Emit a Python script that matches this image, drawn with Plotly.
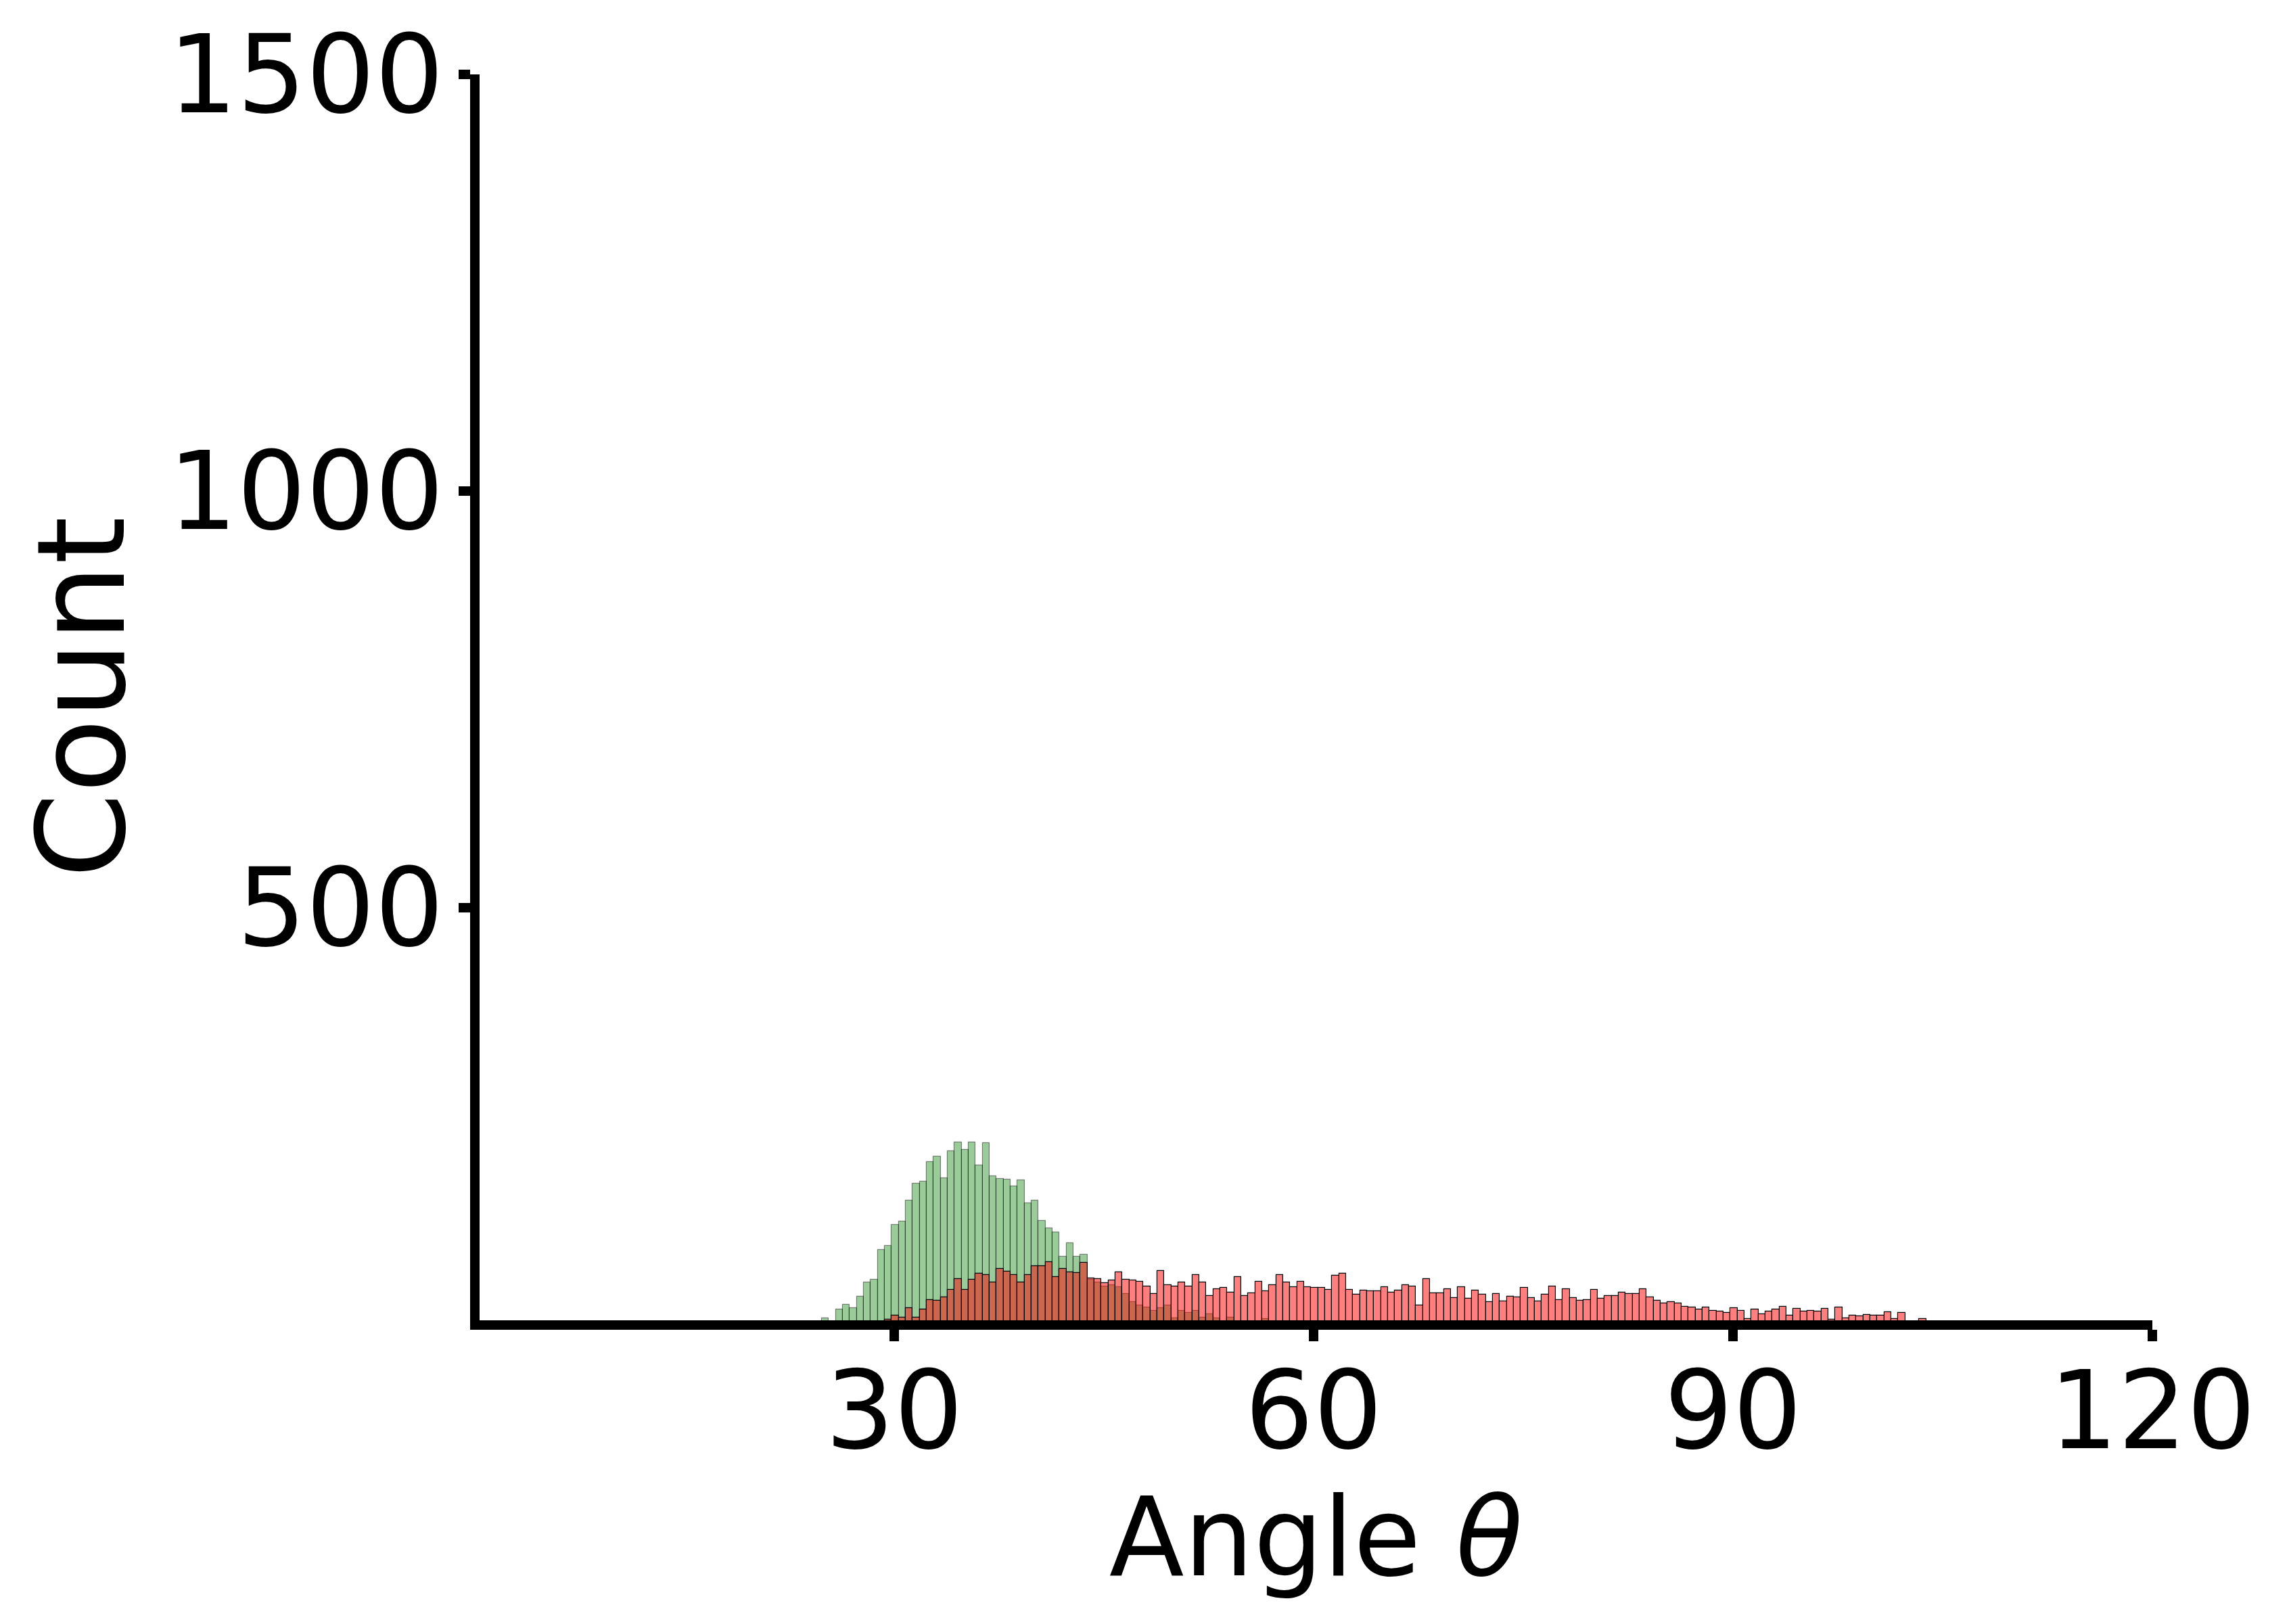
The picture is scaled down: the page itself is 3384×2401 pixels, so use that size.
import plotly.graph_objects as go

# histogram bins (degrees), shared by both groups
bin_start = 24.83
bin_width = 0.5

green_counts = [8, 2, 18, 24, 20, 34, 51, 54, 90, 95, 120, 124, 149, 169, 172, 195, 202, 176, 208, 219,
                210, 219, 191, 218, 178, 175, 174, 166, 173, 146, 149, 125, 116, 111, 82, 98, 82, 84, 54, 51,
                46, 48, 45, 37, 27, 23, 21, 17, 20, 23, 8, 17, 14, 17, 9, 13, 8, 3, 9, 0,
                0, 0, 0, 7]

red_counts = [0, 0, 0, 0, 0, 0, 0, 0, 0, 6, 11, 9, 20, 9, 18, 30, 29, 33, 42, 55,
              42, 54, 61, 60, 51, 67, 64, 60, 51, 60, 70, 70, 75, 57, 67, 63, 62, 74, 56, 55,
              50, 53, 63, 54, 53, 52, 46, 37, 65, 48, 46, 51, 46, 60, 51, 35, 43, 44, 39, 57,
              35, 38, 52, 40, 48, 60, 51, 45, 52, 45, 44, 44, 42, 59, 61, 42, 36, 41, 40, 40,
              45, 39, 41, 48, 46, 23, 55, 38, 38, 43, 32, 45, 31, 41, 36, 27, 37, 28, 34, 33,
              44, 32, 28, 36, 46, 30, 43, 32, 29, 30, 42, 31, 35, 35, 39, 37, 37, 43, 33, 29,
              26, 27, 26, 22, 21, 18, 21, 17, 16, 14, 20, 17, 7, 18, 13, 16, 18, 22, 11, 19,
              16, 17, 16, 19, 6, 21, 8, 11, 10, 12, 11, 11, 15, 7, 14, 1, 4, 7]

x_ticks = [30, 60, 90, 120]
y_ticks = [500, 1000, 1500]

FONT = "DejaVu Sans"

fig = go.Figure()

#green group first, red drawn over it
fig.add_trace(go.Bar(
    x0=bin_start + bin_width / 2, dx=bin_width, y=green_counts, width=bin_width,
    marker=dict(color="rgba(0,128,0,0.4)", line=dict(color="rgba(0,0,0,0.45)", width=1.2)),
    showlegend=False,
))
fig.add_trace(go.Bar(
    x0=bin_start + bin_width / 2, dx=bin_width, y=red_counts, width=bin_width,
    marker=dict(color="rgba(255,0,0,0.5)", line=dict(color="black", width=1.2)),
    showlegend=False,
))

#plotly draws the spines outside the plot area, so the ranges start a few px
#inside zero to put the spine centre on 0 like matplotlib does
#(margins also allow for the 8px page margin of the html body)
fig.update_layout(
    width=3384, height=2401, autosize=False,
    margin=dict(l=701, r=210, t=102, b=457),
    paper_bgcolor="white", plot_bgcolor="white",
    barmode="overlay", bargap=0,
    font=dict(family=FONT, color="black", size=160),
)
fig.update_xaxes(
    range=[0.34, 120], tickvals=x_ticks, ticks="outside", ticklen=17, tickwidth=14, tickcolor="black",
    showline=True, linewidth=14, linecolor="black", showgrid=False, zeroline=False,
    tickfont=dict(size=160), ticklabelstandoff=-34, automargin=False,
    title=dict(text="Angle <i>θ</i>", font=dict(size=162), standoff=42),
)
fig.update_yaxes(
    range=[5.4, 1500], tickvals=y_ticks, ticks="outside", ticklen=17, tickwidth=14, tickcolor="black",
    showline=True, linewidth=14, linecolor="black", showgrid=False, zeroline=False,
    tickfont=dict(size=160), ticklabelstandoff=-10, automargin=False,
    title=dict(text="Count", font=dict(size=180), standoff=10),
)

fig.write_html("out.html")
